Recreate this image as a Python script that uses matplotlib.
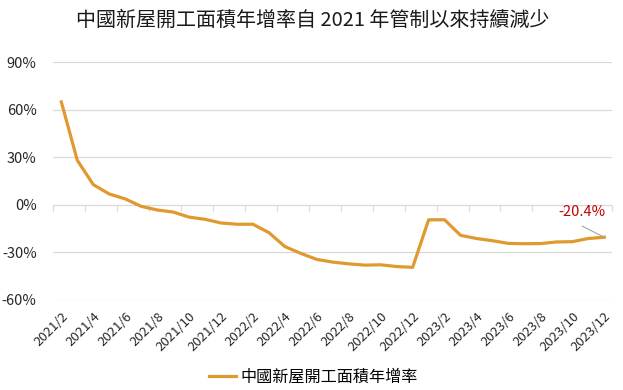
import matplotlib
matplotlib.use("Agg")
import matplotlib.pyplot as plt
from matplotlib.ticker import FuncFormatter

plt.rcParams['font.family'] = ['Noto Sans CJK TC', 'DejaVu Sans']

# monthly categories (Jan values repeat the Jan-Feb figure)
months = ['2021/2', '2021/3', '2021/4', '2021/5', '2021/6', '2021/7', '2021/8',
          '2021/9', '2021/10', '2021/11', '2021/12',
          '2022/1', '2022/2', '2022/3', '2022/4', '2022/5', '2022/6', '2022/7',
          '2022/8', '2022/9', '2022/10', '2022/11', '2022/12',
          '2023/1', '2023/2', '2023/3', '2023/4', '2023/5', '2023/6', '2023/7',
          '2023/8', '2023/9', '2023/10', '2023/11', '2023/12']
growth = [65.0, 28.2, 12.8, 6.9, 3.8, -0.9, -3.2, -4.5, -7.7, -9.1, -11.4,
          -12.2, -12.2, -17.5, -26.3, -30.6, -34.4, -36.1, -37.2, -38.0, -37.8, -38.9, -39.4,
          -9.4, -9.4, -19.2, -21.2, -22.6, -24.3, -24.5, -24.4, -23.4, -23.2, -21.2, -20.4]
yticks = [-60, -30, 0, 30, 60, 90]

title = '中國新屋開工面積年增率自 2021 年管制以來持續減少'
series_name = '中國新屋開工面積年增率'
line_color = '#E0992E'
grid_color = '#D9D9D9'

fig = plt.figure(figsize=(6.23, 3.90), dpi=100)
ax = fig.add_axes([0.0856, 0.2308, 0.8972, 0.6095])

x = list(range(len(months)))
ax.plot(x, growth, color=line_color, lw=2.3, solid_joinstyle='round',
        label=series_name, zorder=3)

ax.set_xlim(-0.5, len(months) - 0.5)
ax.set_ylim(-60, 90)
ax.set_yticks(yticks)
ax.yaxis.set_major_formatter(FuncFormatter(lambda v, p: f'{v:.0f}%'))
for yv in yticks:
    ax.axhline(yv, color=grid_color, lw=0.9, zorder=1)

for s in ax.spines.values():
    s.set_visible(False)
ax.tick_params(axis='y', length=0, pad=12, labelsize=10.5, labelcolor='#262626')

ax.set_xticks(x[::2])
ax.set_xticklabels(months[::2], rotation=45, ha='right', va='top',
                   rotation_mode='anchor')
ax.tick_params(axis='x', length=0, pad=7, labelsize=9.5, labelcolor='#262626')

# category tick marks on the zero line
sec = ax.secondary_xaxis(0.4)
sec.set_xticks([v - 0.5 for v in x[::2]] + [len(months) - 0.5])
sec.set_xticklabels([])
sec.tick_params(axis='x', direction='out', length=4, color=grid_color, width=0.9)
sec.spines['bottom'].set_visible(False)

ax.annotate('', xy=(x[-1], growth[-1]), xytext=(-16, 8), textcoords='offset points',
            arrowprops=dict(arrowstyle='-', color='#A6A6A6', lw=0.8,
                            shrinkA=0, shrinkB=0))
ax.annotate(f'{growth[-1]:.1f}%', xy=(x[-1], growth[-1]), xytext=(-16, 18),
            textcoords='offset points', ha='center', va='center',
            color='#C00000', fontsize=10.5)

fig.text(0.502, 0.948, title, ha='center', va='center', fontsize=14.4, color='#1a1a1a')

fig.legend(loc='center', bbox_to_anchor=(0.503, 0.033), frameon=False,
           fontsize=11.6, handlelength=1.7, handletextpad=0.3)

fig.savefig('out.png', dpi=100)
